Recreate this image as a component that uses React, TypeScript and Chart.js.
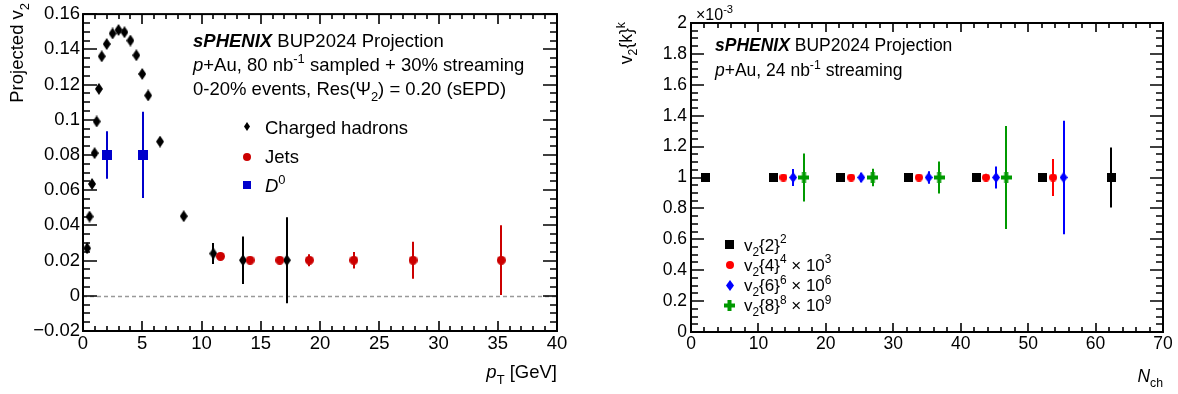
import React, { useEffect, useRef } from "react";
import { Chart, registerables } from "chart.js";

Chart.register(...registerables);

const FONT = '"Liberation Sans", Arial, Helvetica, sans-serif';

// ---------------- Left panel data ----------------
const hadronPt = [0.35, 0.55, 0.76, 0.98, 1.15, 1.34, 1.58, 2.0, 2.5, 3.0, 3.5, 4.0, 4.5, 5.0, 5.5, 6.5, 8.5, 11.0, 13.5, 17.2];
const hadronV2 = [0.027, 0.045, 0.0635, 0.081, 0.099, 0.1175, 0.136, 0.143, 0.149, 0.151, 0.1497, 0.145, 0.1366, 0.126, 0.1138, 0.0876, 0.0452, 0.024, 0.0202, 0.0202];
const hadronErr = [0.0025, 0.002, 0.0015, 0.0012, 0.001, 0.001, 0.001, 0.001, 0.001, 0.001, 0.001, 0.001, 0.001, 0.001, 0.001, 0.001, 0.0015, 0.006, 0.0135, 0.0244];
const jetPt = [11.6, 14.1, 16.6, 19.1, 22.85, 27.85, 35.3];
const jetV2 = [0.0224, 0.0202, 0.0202, 0.0202, 0.0202, 0.0202, 0.0202];
const jetErr = [0.001, 0.001, 0.001, 0.0034, 0.0047, 0.0105, 0.0198];
const d0Pt = [2.03, 5.07];
const d0V2 = [0.08, 0.08];
const d0Err = [0.0135, 0.0245];

const leftXTicks = [0, 5, 10, 15, 20, 25, 30, 35, 40];
const leftXLabels = ["0", "5", "10", "15", "20", "25", "30", "35", "40"];
const leftYTicks = [-0.02, 0, 0.02, 0.04, 0.06, 0.08, 0.1, 0.12, 0.14, 0.16];
const leftYLabels = ["\u22120.02", "0", "0.02", "0.04", "0.06", "0.08", "0.1", "0.12", "0.14", "0.16"];

// ---------------- Right panel data (units of 1e-3) ----------------
const nchV22 = [2.2, 12.2, 22.1, 32.2, 42.3, 52.2, 62.3];
const v22 = [1, 1, 1, 1, 1, 1, 1];
const v22Err = [0.01, 0.01, 0.01, 0.01, 0.01, 0.015, 0.194];
const nchV24 = [13.7, 23.75, 33.8, 43.75, 53.7];
const v24 = [1, 1, 1, 1, 1];
const v24Err = [0.01, 0.012, 0.015, 0.025, 0.12];
const nchV26 = [15.15, 25.25, 35.25, 45.25, 55.25];
const v26 = [1, 1, 1, 1, 1];
const v26Err = [0.055, 0.03, 0.04, 0.072, 0.367];
const nchV28 = [16.75, 26.95, 36.8, 46.75];
const v28 = [1, 1, 1, 1];
const v28Err = [0.155, 0.056, 0.103, 0.334];

const rightXTicks = [0, 10, 20, 30, 40, 50, 60, 70];
const rightXLabels = ["0", "10", "20", "30", "40", "50", "60", "70"];
const rightYTicks = [0, 0.2, 0.4, 0.6, 0.8, 1, 1.2, 1.4, 1.6, 1.8, 2];
const rightYLabels = ["0", "0.2", "0.4", "0.6", "0.8", "1", "1.2", "1.4", "1.6", "1.8", "2"];

// ---------------- helpers ----------------
type Seg = { t: string; s?: "sub" | "sup"; it?: boolean; b?: boolean };

function segFont(sg: Seg, size: number) {
  const sz = sg.s ? size * 0.7 : size;
  return `${sg.it ? "italic " : ""}${sg.b ? "bold " : ""}${sz}px ${FONT}`;
}

function drawRich(ctx: CanvasRenderingContext2D, segs: Seg[], x: number, y: number, size: number, align: "left" | "right" = "left", rot = false) {
  ctx.save();
  ctx.translate(x, y);
  if (rot) ctx.rotate(-Math.PI / 2);
  ctx.textBaseline = "alphabetic";
  ctx.textAlign = "left";
  ctx.fillStyle = "#000";
  const widths = segs.map((sg) => {
    ctx.font = segFont(sg, size);
    return ctx.measureText(sg.t).width;
  });
  const total = widths.reduce((a, b) => a + b, 0);
  let cx = align === "right" ? -total : 0;
  segs.forEach((sg, i) => {
    ctx.font = segFont(sg, size);
    const dy = sg.s === "sub" ? size * 0.3 : sg.s === "sup" ? -size * 0.42 : 0;
    ctx.fillText(sg.t, cx, dy);
    cx += widths[i];
  });
  ctx.restore();
}

function marker(kind: string, w: number, h: number, color: string) {
  const c = document.createElement("canvas");
  c.width = w;
  c.height = h;
  const g = c.getContext("2d")!;
  g.fillStyle = color;
  g.beginPath();
  if (kind === "diamond") {
    g.moveTo(w / 2, 0);
    g.lineTo(w, h / 2);
    g.lineTo(w / 2, h);
    g.lineTo(0, h / 2);
    g.closePath();
  } else if (kind === "square") {
    g.rect(0, 0, w, h);
  } else if (kind === "circle") {
    g.arc(w / 2, h / 2, w / 2, 0, Math.PI * 2);
  } else if (kind === "cross") {
    const a = Math.round(w * 0.38);
    g.rect((w - a) / 2, 0, a, h);
    g.rect(0, (h - a) / 2, w, a);
  }
  g.fill();
  return c;
}

function range(a: number, b: number, step: number) {
  const out: number[] = [];
  for (let i = 0; a + i * step <= b + 1e-9; i++) out.push(+(a + i * step).toFixed(6));
  return out;
}

type TickCfg = {
  xMajor: number[]; xMinor: number[]; yMajor: number[]; yMinor: number[];
  xMaj: number; xMin: number; yMaj: number; yMin: number;
  zero?: boolean;
  text: (ctx: CanvasRenderingContext2D, chart: any) => void;
};

function decor(cfg: TickCfg) {
  return {
    id: "decor",
    beforeDatasetsDraw(chart: any) {
      const { ctx, chartArea: a, scales } = chart;
      const xs = scales.x, ys = scales.y;
      ctx.save();
      ctx.beginPath();
      ctx.rect(a.left, a.top, a.right - a.left, a.bottom - a.top);
      ctx.clip();
      if (cfg.zero) {
        const py = Math.round(ys.getPixelForValue(0)) + 0.5;
        ctx.strokeStyle = "#999";
        ctx.lineWidth = 1.5;
        ctx.setLineDash([4, 3]);
        ctx.beginPath();
        ctx.moveTo(a.left, py);
        ctx.lineTo(a.right, py);
        ctx.stroke();
        ctx.setLineDash([]);
      }
      chart.data.datasets.forEach((ds: any) => {
        if (!ds.err) return;
        ctx.strokeStyle = ds.errColor;
        ctx.lineWidth = ds.errWidth;
        ctx.beginPath();
        ds.data.forEach((p: any, i: number) => {
          const px = Math.round(xs.getPixelForValue(p.x));
          ctx.moveTo(px, ys.getPixelForValue(p.y + ds.err[i]));
          ctx.lineTo(px, ys.getPixelForValue(p.y - ds.err[i]));
        });
        ctx.stroke();
      });
      ctx.restore();
    },
    afterDraw(chart: any) {
      const { ctx, chartArea: a, scales } = chart;
      const xs = scales.x, ys = scales.y;
      ctx.save();
      ctx.strokeStyle = "#000";
      ctx.lineWidth = 1.6;
      ctx.beginPath();
      const xt = (v: number, len: number) => {
        const px = Math.round(xs.getPixelForValue(v));
        ctx.moveTo(px, a.bottom);
        ctx.lineTo(px, a.bottom - len);
        ctx.moveTo(px, a.top);
        ctx.lineTo(px, a.top + len);
      };
      const yt = (v: number, len: number) => {
        const py = Math.round(ys.getPixelForValue(v));
        ctx.moveTo(a.left, py);
        ctx.lineTo(a.left + len, py);
        ctx.moveTo(a.right, py);
        ctx.lineTo(a.right - len, py);
      };
      cfg.xMajor.forEach((v) => xt(v, cfg.xMaj));
      cfg.xMinor.forEach((v) => xt(v, cfg.xMin));
      cfg.yMajor.forEach((v) => yt(v, cfg.yMaj));
      cfg.yMinor.forEach((v) => yt(v, cfg.yMin));
      ctx.stroke();
      ctx.lineWidth = 2;
      ctx.strokeRect(a.left, a.top, a.right - a.left, a.bottom - a.top);
      ctx.restore();
      cfg.text(ctx, chart);
    },
  };
}

function axisOpts(min: number, max: number, ticks: number[], labels: string[], size: number, fit: (s: any) => void, pad: number) {
  return {
    type: "linear",
    min,
    max,
    grid: { display: false, drawTicks: false },
    border: { display: false },
    afterBuildTicks: (s: any) => {
      s.ticks = ticks.map((v) => ({ value: v }));
    },
    ticks: {
      autoSkip: false,
      maxRotation: 0,
      padding: pad,
      color: "#000",
      font: { family: FONT, size },
      callback: (_v: any, i: number) => labels[i],
    },
    afterFit: fit,
  };
}

const pts = (xs: number[], ys: number[]) => xs.map((x, i) => ({ x, y: ys[i] }));

// ---------------- configs ----------------
function leftConfig(): any {
  const dia = marker("diamond", 8, 12, "#000");
  const circ = marker("circle", 9, 9, "#cc0000");
  const sq = marker("square", 10, 10, "#0000cc");
  const legDia = marker("diamond", 6, 9, "#000");
  const legCirc = marker("circle", 8, 8, "#cc0000");
  const legSq = marker("square", 8, 8, "#0000cc");
  const FS = 18.5;
  return {
    type: "scatter",
    data: {
      datasets: [
        { data: pts(jetPt, jetV2), pointStyle: circ, pointRadius: 5, err: jetErr, errColor: "#cc0000", errWidth: 2 },
        { data: pts(d0Pt, d0V2), pointStyle: sq, pointRadius: 5, err: d0Err, errColor: "#0000cc", errWidth: 2 },
        { data: pts(hadronPt, hadronV2), pointStyle: dia, pointRadius: 5, err: hadronErr, errColor: "#000", errWidth: 2 },
      ],
    },
    options: {
      animation: false,
      responsive: false,
      maintainAspectRatio: false,
      layout: { padding: { left: 0, right: 32, top: 12, bottom: 0 } },
      plugins: { legend: { display: false }, tooltip: { enabled: false } },
      scales: {
        x: axisOpts(0, 40, leftXTicks, leftXLabels, FS, (s: any) => { s.height = 63; }, 2),
        y: axisOpts(-0.02, 0.16, leftYTicks, leftYLabels, FS, (s: any) => { s.width = 83; }, 3),
      },
    },
    plugins: [
      decor({
        xMajor: leftXTicks, xMinor: range(0, 40, 1), yMajor: leftYTicks, yMinor: range(-0.02, 0.16, 0.005),
        xMaj: 10, xMin: 5, yMaj: 14, yMin: 7, zero: true,
        text: (ctx) => {
          drawRich(ctx, [{ t: "Projected v" }, { t: "2", s: "sub" }], 23, 3, FS, "right", true);
          drawRich(ctx, [{ t: "p", it: true }, { t: "T", s: "sub" }, { t: " [GeV]" }], 557, 378, FS, "right");
          drawRich(ctx, [{ t: "sPHENIX", it: true, b: true }, { t: " BUP2024 Projection" }], 193, 46.5, FS);
          drawRich(ctx, [{ t: "p", it: true }, { t: "+Au, 80 nb" }, { t: "-1", s: "sup" }, { t: " sampled + 30% streaming" }], 193, 70.5, FS);
          drawRich(ctx, [{ t: "0-20% events, Res(\u03A8" }, { t: "2", s: "sub" }, { t: ") = 0.20 (sEPD)" }], 193, 95, FS);
          ctx.drawImage(legDia, 247 - legDia.width / 2, 127 - Math.round(legDia.height / 2));
          ctx.drawImage(legCirc, 247 - legCirc.width / 2, 157 - legCirc.height / 2);
          ctx.drawImage(legSq, 247 - legSq.width / 2, 185 - legSq.height / 2);
          drawRich(ctx, [{ t: "Charged hadrons" }], 265, 133.5, FS);
          drawRich(ctx, [{ t: "Jets" }], 265, 163, FS);
          drawRich(ctx, [{ t: "D", it: true }, { t: "0", s: "sup" }], 265, 191.5, FS);
        },
      }),
    ],
  };
}

function rightConfig(): any {
  const sqK = marker("square", 9, 9, "#000");
  const circR = marker("circle", 8, 8, "#ff0000");
  const diaB = marker("diamond", 8, 11, "#0000ff");
  const crossG = marker("cross", 11, 11, "#009900");
  const FS = 17.5;
  return {
    type: "scatter",
    data: {
      datasets: [
        { data: pts(nchV22, v22), pointStyle: sqK, pointRadius: 5, err: v22Err, errColor: "#000", errWidth: 2 },
        { data: pts(nchV24, v24), pointStyle: circR, pointRadius: 5, err: v24Err, errColor: "#ff0000", errWidth: 2 },
        { data: pts(nchV26, v26), pointStyle: diaB, pointRadius: 5, err: v26Err, errColor: "#0000ff", errWidth: 2 },
        { data: pts(nchV28, v28), pointStyle: crossG, pointRadius: 5, err: v28Err, errColor: "#009900", errWidth: 2 },
      ],
    },
    options: {
      animation: false,
      responsive: false,
      maintainAspectRatio: false,
      layout: { padding: { left: 0, right: 15, top: 23, bottom: 0 } },
      plugins: { legend: { display: false }, tooltip: { enabled: false } },
      scales: {
        x: axisOpts(0, 70, rightXTicks, rightXLabels, FS, (s: any) => { s.height = 62; }, 2),
        y: axisOpts(0, 2, rightYTicks, rightYLabels, FS, (s: any) => { s.width = 102; }, 4),
      },
    },
    plugins: [
      decor({
        xMajor: rightXTicks, xMinor: range(0, 70, 2), yMajor: rightYTicks, yMinor: range(0, 2, 0.05),
        xMaj: 9, xMin: 5, yMaj: 13, yMin: 7,
        text: (ctx) => {
          drawRich(ctx, [{ t: "v" }, { t: "2", s: "sub" }, { t: "{k}" }, { t: "k", s: "sup" }], 43, 22, FS, "right", true);
          drawRich(ctx, [{ t: "N", it: true }, { t: "ch", s: "sub" }], 574, 381.5, FS, "right");
          drawRich(ctx, [{ t: "\u00D710" }, { t: "-3", s: "sup" }], 107, 19.5, 16);
          drawRich(ctx, [{ t: "sPHENIX", it: true, b: true }, { t: " BUP2024 Projection" }], 126, 50.5, FS);
          drawRich(ctx, [{ t: "p", it: true }, { t: "+Au, 24 nb" }, { t: "-1", s: "sup" }, { t: " streaming" }], 126, 76, FS);
          const lx = 140.5, tx = 155, LF = 17;
          const rows = [244.5, 264.5, 285, 305];
          const imgs = [sqK, circR, diaB, crossG];
          imgs.forEach((im, i) => ctx.drawImage(im, Math.round(lx - im.width / 2), Math.round(rows[i] - im.height / 2)));
          drawRich(ctx, [{ t: "v" }, { t: "2", s: "sub" }, { t: "{2}" }, { t: "2", s: "sup" }], tx, rows[0] + 6, LF);
          drawRich(ctx, [{ t: "v" }, { t: "2", s: "sub" }, { t: "{4}" }, { t: "4", s: "sup" }, { t: " \u00D7 10" }, { t: "3", s: "sup" }], tx, rows[1] + 6, LF);
          drawRich(ctx, [{ t: "v" }, { t: "2", s: "sub" }, { t: "{6}" }, { t: "6", s: "sup" }, { t: " \u00D7 10" }, { t: "6", s: "sup" }], tx, rows[2] + 6, LF);
          drawRich(ctx, [{ t: "v" }, { t: "2", s: "sub" }, { t: "{8}" }, { t: "8", s: "sup" }, { t: " \u00D7 10" }, { t: "9", s: "sup" }], tx, rows[3] + 6, LF);
        },
      }),
    ],
  };
}

export default function App() {
  const lRef = useRef<HTMLCanvasElement>(null);
  const rRef = useRef<HTMLCanvasElement>(null);
  useEffect(() => {
    const c1 = new Chart(lRef.current as HTMLCanvasElement, leftConfig());
    const c2 = new Chart(rRef.current as HTMLCanvasElement, rightConfig());
    return () => {
      c1.destroy();
      c2.destroy();
    };
  }, []);
  return (
    <div style={{ position: "absolute", left: 0, top: 0, width: 1178, height: 394, background: "#fff" }}>
      <canvas ref={lRef} width={589} height={394} style={{ position: "absolute", left: 0, top: 0 }} />
      <canvas ref={rRef} width={589} height={394} style={{ position: "absolute", left: 589, top: 0 }} />
    </div>
  );
}
